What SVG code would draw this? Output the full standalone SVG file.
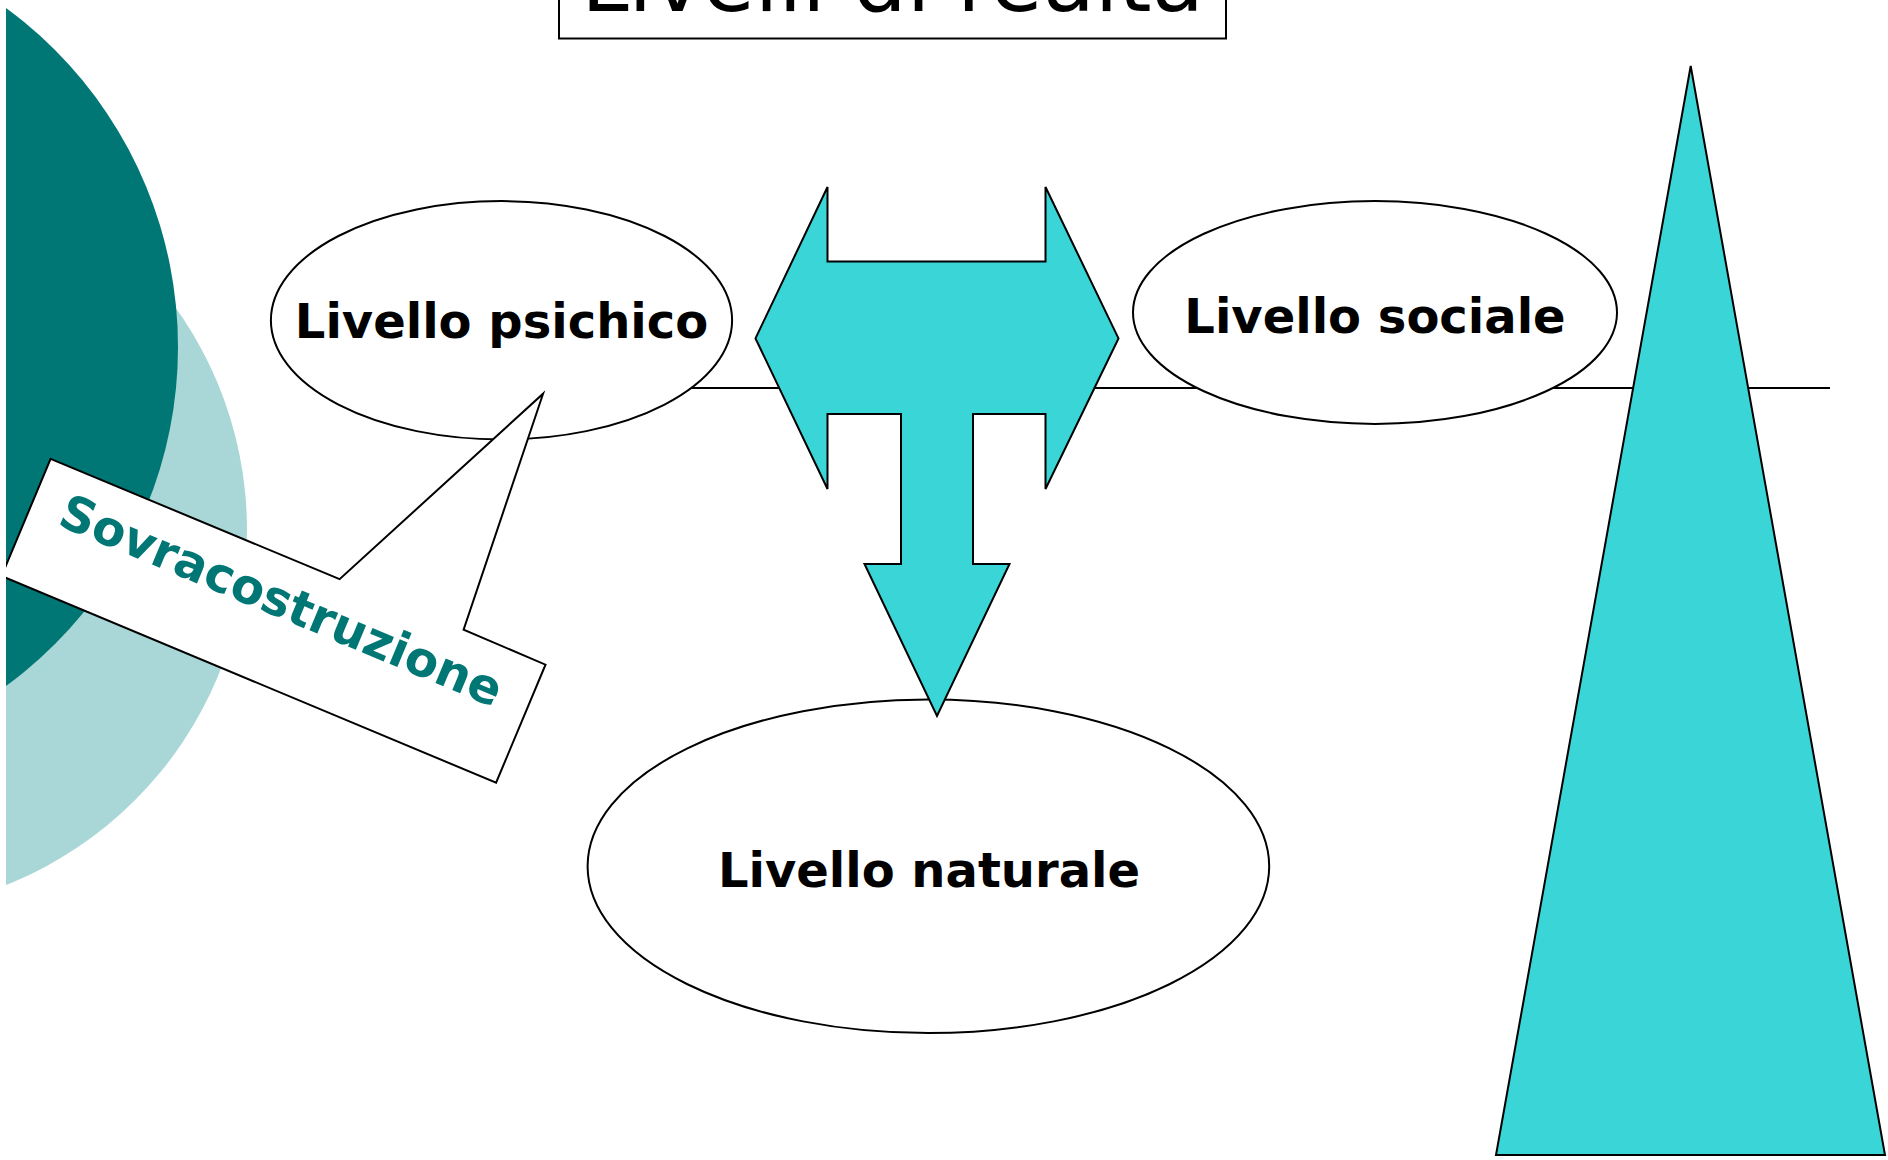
<svg xmlns="http://www.w3.org/2000/svg" width="1888" height="1160" viewBox="0 0 1888 1160">
  <defs>
    <clipPath id="slide">
      <rect x="6" y="0" width="1882" height="1160"/>
    </clipPath>
  </defs>
  <style>
    .outline { stroke: #000000; stroke-width: 2; }
    .node { fill: #FFFFFF; }
    .cyan { fill: #3AD5D6; }
    .label { font-family: "DejaVu Sans", Verdana, sans-serif; font-weight: bold; font-size: 48px; fill: #000000; text-anchor: middle; }
    .title { font-family: "DejaVu Sans", Verdana, sans-serif; font-size: 85px; fill: #000000; text-anchor: middle; }
    .callout-text { font-family: "DejaVu Sans", Verdana, sans-serif; font-weight: bold; font-size: 48.5px; fill: #007775; text-anchor: middle; }
  </style>
  <rect width="1888" height="1160" fill="#FFFFFF"/>

  <g id="background" clip-path="url(#slide)">
    <circle cx="-135" cy="530" r="382" fill="#A9D6D6"/>
    <circle cx="-242" cy="347" r="420" fill="#007775"/>
  </g>

  <g id="title">
    <rect x="559" y="-60" width="667" height="98.5" class="node outline"/>
    <text x="892.5" y="11" class="title">Livelli di realtà</text>
  </g>

  <g id="connectors">
    <line x1="650" y1="388" x2="1830" y2="388" class="outline"/>
  </g>

  <g id="livello-psichico">
    <ellipse cx="501.5" cy="320.3" rx="230.6" ry="119.2" class="node outline"/>
    <text x="501.5" y="338" class="label">Livello psichico</text>
  </g>

  <g id="livello-sociale">
    <ellipse cx="1375" cy="312.5" rx="242" ry="111.4" class="node outline"/>
    <text x="1375" y="333" class="label">Livello sociale</text>
  </g>

  <g id="livello-naturale">
    <ellipse cx="928.4" cy="866.3" rx="340.8" ry="166.8" class="node outline"/>
    <text x="929" y="887" class="label">Livello naturale</text>
  </g>

  <g id="t-arrow">
    <polygon class="cyan outline" stroke-linejoin="miter" points="755.5,338.4 827.5,187 827.5,261.5 1045.5,261.5 1045.5,187 1118.5,338.4 1045.5,489 1045.5,414 973,414 973,564 1009.5,564 937,716 864.5,564 901,564 901,414 827.5,414 827.5,489"/>
  </g>

  <g id="triangle">
    <polygon class="cyan outline" points="1690.7,66 1885,1155 1496,1155"/>
  </g>

  <g id="sovracostruzione" clip-path="url(#slide)">
    <polygon class="node outline" stroke-linejoin="miter" points="50.6,458.8 339.6,579.2 543.1,393.7 463.6,629.7 545.5,664.7 496.1,782.7 1.6,576"/>
    <text x="275" y="616" class="callout-text" transform="rotate(22.7 275 616)">Sovracostruzione</text>
  </g>
</svg>
